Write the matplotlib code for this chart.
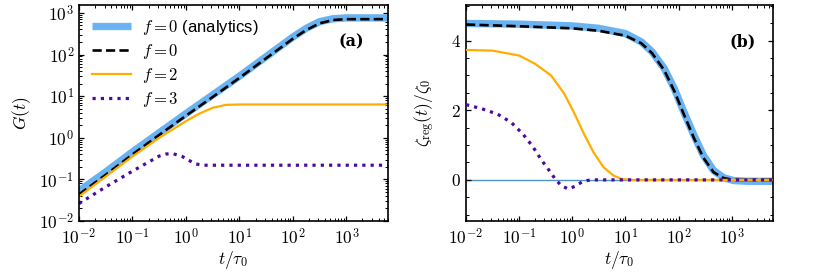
import math
import matplotlib
matplotlib.use('Agg')
import matplotlib.pyplot as plt
from matplotlib.ticker import LogLocator, FuncFormatter, MultipleLocator, NullFormatter

plt.rcParams['mathtext.fontset'] = 'cm'
plt.rcParams['font.family'] = ['Liberation Sans', 'DejaVu Sans']

# ---- panel (a): G(t), log-log ----
t_ana = [0.01, 0.0316, 0.1, 0.316, 1, 3.16, 10, 31.6, 100, 178, 316, 562, 1000, 6000]
G_ana = [0.0525, 0.151, 0.457, 1.32, 3.80, 10.7, 30.2, 89.1, 263, 427, 617, 724, 759, 759]
G_f0 = [0.0437, 0.129, 0.398, 1.17, 3.39, 9.55, 27.5, 81.3, 240, 389, 562, 676, 708, 708]

t_f2 = [0.01, 0.0316, 0.1, 0.316, 0.562, 1, 1.78, 3.16, 5.62, 10, 6000]
G_f2 = [0.0389, 0.117, 0.355, 1.0, 1.58, 2.51, 3.80, 5.25, 6.17, 6.31, 6.31]

t_f3 = [0.01, 0.0316, 0.1, 0.178, 0.316, 0.427, 0.562, 0.851, 1.12, 1.55, 2.14, 6000]
G_f3 = [0.0263, 0.066, 0.158, 0.240, 0.363, 0.407, 0.417, 0.355, 0.288, 0.234, 0.219, 0.219]

# ---- panel (b): zeta_reg(t)/zeta_0 ----
t_zana = [0.01, 0.1, 1, 3.16, 10, 20, 31.6, 53.7, 83.2, 126, 195, 295, 457, 708, 1100, 2000, 6000]
z_ana = [4.49, 4.47, 4.42, 4.35, 4.20, 3.96, 3.68, 3.20, 2.62, 1.95, 1.28, 0.70, 0.27, 0.06, -0.02, -0.04, -0.04]
z_f0 = [4.46, 4.41, 4.35, 4.28, 4.14, 3.92, 3.64, 3.15, 2.55, 1.88, 1.20, 0.63, 0.22, 0.05, 0.0, 0.0, 0.0]

t_zf2 = [0.01, 0.0316, 0.1, 0.2, 0.398, 0.708, 1.07, 1.66, 2.51, 3.89, 6.03, 8.51, 12.6, 6000]
z_f2 = [3.73, 3.71, 3.57, 3.33, 3.00, 2.47, 1.94, 1.32, 0.79, 0.36, 0.12, 0.03, 0.0, 0.0]

t_zf3 = [0.01, 0.02, 0.0389, 0.0708, 0.117, 0.178, 0.263, 0.389, 0.479, 0.617, 0.832, 1.15, 1.55, 2.19, 6000]
z_f3 = [2.16, 2.04, 1.89, 1.65, 1.32, 0.97, 0.57, 0.22, 0.02, -0.16, -0.26, -0.18, -0.05, 0.0, 0.0]

C_ANA = '#69b3f2'
C_F2 = '#ffad00'
C_F3 = '#4b0aa0'
FS = 12.5


def pow10(v, pos):
    return r'$10^{%d}$' % round(math.log10(v))


def style_axes(ax):
    ax.tick_params(which='both', direction='in', top=True, right=True, labelsize=FS)
    ax.tick_params(which='major', length=3.5, width=0.9)
    ax.tick_params(which='minor', length=2, width=0.7)
    ax.tick_params(axis='x', pad=4.5)
    for s in ax.spines.values():
        s.set_linewidth(1.2)
    ax.set_xscale('log')
    ax.set_xlim(1e-2, 6e3)
    ax.xaxis.set_major_locator(LogLocator(base=10, numticks=20))
    ax.xaxis.set_minor_locator(LogLocator(base=10, subs=range(2, 10), numticks=20))
    ax.xaxis.set_minor_formatter(NullFormatter())
    ax.xaxis.set_major_formatter(FuncFormatter(pow10))
    ax.set_xlabel(r'$t/\tau_0$', fontsize=FS)
    ax.xaxis.set_label_coords(0.5, -0.13)


def panel_tag(ax, x, s):
    ax.text(x, 0.83, s, transform=ax.transAxes, fontsize=11.5, fontweight='bold',
            family='DejaVu Serif', ha='center', va='center')


fig = plt.figure(figsize=(8.31, 2.76), dpi=100)
ax1 = fig.add_axes([0.0951, 0.1993, 0.3718, 0.7826])
ax2 = fig.add_axes([0.5608, 0.1993, 0.3694, 0.7826])

dash = (0, (3.5, 1.6))
dots = (0, (1, 1.6))

ax1.plot(t_ana, G_ana, color=C_ANA, lw=5.3, solid_capstyle='butt', label=r'$f=0$ (analytics)')
ax1.plot(t_ana, G_f0, color='black', lw=1.9, linestyle=dash, label=r'$f=0$')
ax1.plot(t_f2, G_f2, color=C_F2, lw=1.6, label=r'$f=2$')
ax1.plot(t_f3, G_f3, color=C_F3, lw=2.3, linestyle=dots, label=r'$f=3$')
style_axes(ax1)
ax1.set_yscale('log')
ax1.set_ylim(1e-2, 1.55e3)
ax1.yaxis.set_major_locator(LogLocator(base=10, numticks=20))
ax1.yaxis.set_minor_locator(LogLocator(base=10, subs=range(2, 10), numticks=20))
ax1.yaxis.set_minor_formatter(NullFormatter())
ax1.yaxis.set_major_formatter(FuncFormatter(pow10))
ax1.set_ylabel(r'$G(t)$', fontsize=FS)
ax1.yaxis.set_label_coords(-0.149, 0.5)
panel_tag(ax1, 0.88, '(a)')
ax1.legend(loc='upper left', frameon=False, fontsize=12, handlelength=2.3, handletextpad=0.7,
           labelspacing=0.3, borderaxespad=0.6, borderpad=0.2)

ax2.axhline(0, color='#4f93c9', lw=1.0, zorder=1)
ax2.plot(t_zana, z_ana, color=C_ANA, lw=5.3, solid_capstyle='butt', zorder=2)
ax2.plot(t_zana, z_f0, color='black', lw=1.9, linestyle=dash, zorder=3)
ax2.plot(t_zf2, z_f2, color=C_F2, lw=1.6, zorder=4)
ax2.plot(t_zf3, z_f3, color=C_F3, lw=2.3, linestyle=dots, zorder=5)
style_axes(ax2)
ax2.set_ylim(-1.18, 5.02)
ax2.yaxis.set_major_locator(MultipleLocator(2))
ax2.yaxis.set_minor_locator(MultipleLocator(0.5))
ax2.yaxis.set_major_formatter(FuncFormatter(lambda v, p: r'$%d$' % round(v)))
ax2.set_ylabel(r'$\zeta_{\rm reg}(t)/\zeta_0$', fontsize=FS)
ax2.yaxis.set_label_coords(-0.094, 0.5)
panel_tag(ax2, 0.90, '(b)')

fig.savefig('out.png', dpi=100)
